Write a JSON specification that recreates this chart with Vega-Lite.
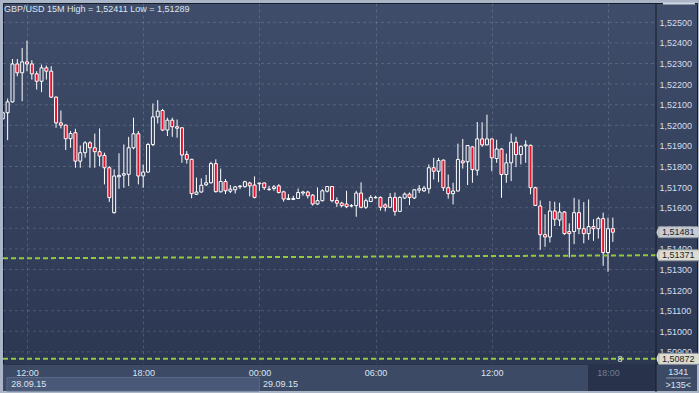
{
  "$schema": "https://vega.github.io/schema/vega-lite/v6.json",
  "width": 694,
  "height": 361,
  "autosize": {"type": "none"},
  "padding": {"left": 3, "top": 3, "right": 2, "bottom": 29},
  "background": "#aab5c7",
  "config": {
    "view": {"fill": {"gradient": "linear", "x1": 0, "y1": 0, "x2": 0, "y2": 1, "stops": [{"offset": 0, "color": "#3f4d6a"}, {"offset": 1, "color": "#2c3752"}]}, "stroke": "#161c28", "strokeWidth": 1},
    "font": "Liberation Sans",
    "scale": {"continuousPadding": 0}
  },
  "resolve": {"axis": {"x": "independent", "y": "independent"}},
  "datasets": {
    "candles": [
      {"t":"2015-09-28T10:45:00Z","o":1.52032,"h":1.52068,"l":1.52025,"c":1.52061},
      {"t":"2015-09-28T11:00:00Z","o":1.52061,"h":1.52130,"l":1.51928,"c":1.52114},
      {"t":"2015-09-28T11:15:00Z","o":1.52114,"h":1.52322,"l":1.52110,"c":1.52298},
      {"t":"2015-09-28T11:30:00Z","o":1.52298,"h":1.52322,"l":1.52238,"c":1.52255},
      {"t":"2015-09-28T11:45:00Z","o":1.52255,"h":1.52376,"l":1.52117,"c":1.52308},
      {"t":"2015-09-28T12:00:00Z","o":1.52308,"h":1.52411,"l":1.52263,"c":1.52298},
      {"t":"2015-09-28T12:15:00Z","o":1.52298,"h":1.52316,"l":1.52222,"c":1.52250},
      {"t":"2015-09-28T12:30:00Z","o":1.52250,"h":1.52263,"l":1.52174,"c":1.52214},
      {"t":"2015-09-28T12:45:00Z","o":1.52214,"h":1.52295,"l":1.52161,"c":1.52279},
      {"t":"2015-09-28T13:00:00Z","o":1.52279,"h":1.52290,"l":1.52222,"c":1.52263},
      {"t":"2015-09-28T13:15:00Z","o":1.52263,"h":1.52287,"l":1.52133,"c":1.52137},
      {"t":"2015-09-28T13:30:00Z","o":1.52137,"h":1.52140,"l":1.51988,"c":1.52012},
      {"t":"2015-09-28T13:45:00Z","o":1.52012,"h":1.52072,"l":1.51985,"c":1.52001},
      {"t":"2015-09-28T14:00:00Z","o":1.52001,"h":1.52004,"l":1.51880,"c":1.51935},
      {"t":"2015-09-28T14:15:00Z","o":1.51935,"h":1.51972,"l":1.51891,"c":1.51960},
      {"t":"2015-09-28T14:30:00Z","o":1.51964,"h":1.51983,"l":1.51794,"c":1.51826},
      {"t":"2015-09-28T14:45:00Z","o":1.51826,"h":1.51902,"l":1.51794,"c":1.51867},
      {"t":"2015-09-28T15:00:00Z","o":1.51867,"h":1.51923,"l":1.51843,"c":1.51915},
      {"t":"2015-09-28T15:15:00Z","o":1.51915,"h":1.51923,"l":1.51794,"c":1.51891},
      {"t":"2015-09-28T15:30:00Z","o":1.51891,"h":1.51960,"l":1.51794,"c":1.51872},
      {"t":"2015-09-28T15:45:00Z","o":1.51872,"h":1.51985,"l":1.51802,"c":1.51851},
      {"t":"2015-09-28T16:00:00Z","o":1.51854,"h":1.51867,"l":1.51713,"c":1.51794},
      {"t":"2015-09-28T16:15:00Z","o":1.51794,"h":1.51802,"l":1.51628,"c":1.51649},
      {"t":"2015-09-28T16:30:00Z","o":1.51576,"h":1.51786,"l":1.51571,"c":1.51754},
      {"t":"2015-09-28T16:45:00Z","o":1.51750,"h":1.51864,"l":1.51692,"c":1.51757},
      {"t":"2015-09-28T17:00:00Z","o":1.51758,"h":1.51907,"l":1.51697,"c":1.51765},
      {"t":"2015-09-28T17:15:00Z","o":1.51762,"h":1.51944,"l":1.51705,"c":1.51891},
      {"t":"2015-09-28T17:30:00Z","o":1.51891,"h":1.52037,"l":1.51883,"c":1.51959},
      {"t":"2015-09-28T17:45:00Z","o":1.51959,"h":1.51972,"l":1.51713,"c":1.51754},
      {"t":"2015-09-28T18:00:00Z","o":1.51754,"h":1.51810,"l":1.51697,"c":1.51773},
      {"t":"2015-09-28T18:15:00Z","o":1.51773,"h":1.51915,"l":1.51770,"c":1.51907},
      {"t":"2015-09-28T18:30:00Z","o":1.51907,"h":1.52106,"l":1.51899,"c":1.52041},
      {"t":"2015-09-28T18:45:00Z","o":1.52041,"h":1.52122,"l":1.52009,"c":1.52069},
      {"t":"2015-09-28T19:00:00Z","o":1.52072,"h":1.52080,"l":1.51972,"c":1.51977},
      {"t":"2015-09-28T19:15:00Z","o":1.51977,"h":1.52037,"l":1.51948,"c":1.52025},
      {"t":"2015-09-28T19:30:00Z","o":1.52025,"h":1.52037,"l":1.51944,"c":1.51993},
      {"t":"2015-09-28T19:45:00Z","o":1.51993,"h":1.52028,"l":1.51940,"c":1.51986},
      {"t":"2015-09-28T20:00:00Z","o":1.51988,"h":1.51990,"l":1.51818,"c":1.51856},
      {"t":"2015-09-28T20:15:00Z","o":1.51859,"h":1.51875,"l":1.51814,"c":1.51835},
      {"t":"2015-09-28T20:30:00Z","o":1.51835,"h":1.51837,"l":1.51646,"c":1.51668},
      {"t":"2015-09-28T20:45:00Z","o":1.51665,"h":1.51746,"l":1.51662,"c":1.51676},
      {"t":"2015-09-28T21:00:00Z","o":1.51676,"h":1.51742,"l":1.51673,"c":1.51709},
      {"t":"2015-09-28T21:15:00Z","o":1.51711,"h":1.51759,"l":1.51705,"c":1.51721},
      {"t":"2015-09-28T21:30:00Z","o":1.51721,"h":1.51823,"l":1.51717,"c":1.51814},
      {"t":"2015-09-28T21:45:00Z","o":1.51814,"h":1.51835,"l":1.51673,"c":1.51678},
      {"t":"2015-09-28T22:00:00Z","o":1.51677,"h":1.51790,"l":1.51674,"c":1.51727},
      {"t":"2015-09-28T22:15:00Z","o":1.51727,"h":1.51739,"l":1.51666,"c":1.51682},
      {"t":"2015-09-28T22:30:00Z","o":1.51680,"h":1.51710,"l":1.51671,"c":1.51690},
      {"t":"2015-09-28T22:45:00Z","o":1.51687,"h":1.51706,"l":1.51669,"c":1.51701},
      {"t":"2015-09-28T23:00:00Z","o":1.51702,"h":1.51710,"l":1.51690,"c":1.51705},
      {"t":"2015-09-28T23:15:00Z","o":1.51702,"h":1.51731,"l":1.51698,"c":1.51726},
      {"t":"2015-09-28T23:30:00Z","o":1.51720,"h":1.51726,"l":1.51655,"c":1.51706},
      {"t":"2015-09-28T23:45:00Z","o":1.51710,"h":1.51752,"l":1.51645,"c":1.51650},
      {"t":"2015-09-29T00:00:00Z","o":1.51716,"h":1.51720,"l":1.51682,"c":1.51720},
      {"t":"2015-09-29T00:15:00Z","o":1.51720,"h":1.51722,"l":1.51686,"c":1.51697},
      {"t":"2015-09-29T00:30:00Z","o":1.51688,"h":1.51706,"l":1.51682,"c":1.51690},
      {"t":"2015-09-29T00:45:00Z","o":1.51693,"h":1.51710,"l":1.51682,"c":1.51701},
      {"t":"2015-09-29T01:00:00Z","o":1.51706,"h":1.51714,"l":1.51669,"c":1.51674},
      {"t":"2015-09-29T01:15:00Z","o":1.51677,"h":1.51682,"l":1.51630,"c":1.51642},
      {"t":"2015-09-29T01:30:00Z","o":1.51640,"h":1.51666,"l":1.51637,"c":1.51645},
      {"t":"2015-09-29T01:45:00Z","o":1.51640,"h":1.51658,"l":1.51637,"c":1.51645},
      {"t":"2015-09-29T02:00:00Z","o":1.51645,"h":1.51693,"l":1.51642,"c":1.51674},
      {"t":"2015-09-29T02:15:00Z","o":1.51671,"h":1.51682,"l":1.51658,"c":1.51676},
      {"t":"2015-09-29T02:30:00Z","o":1.51676,"h":1.51682,"l":1.51645,"c":1.51658},
      {"t":"2015-09-29T02:45:00Z","o":1.51661,"h":1.51666,"l":1.51610,"c":1.51618},
      {"t":"2015-09-29T03:00:00Z","o":1.51618,"h":1.51698,"l":1.51614,"c":1.51634},
      {"t":"2015-09-29T03:15:00Z","o":1.51634,"h":1.51690,"l":1.51630,"c":1.51682},
      {"t":"2015-09-29T03:30:00Z","o":1.51680,"h":1.51705,"l":1.51674,"c":1.51703},
      {"t":"2015-09-29T03:45:00Z","o":1.51703,"h":1.51705,"l":1.51626,"c":1.51634},
      {"t":"2015-09-29T04:00:00Z","o":1.51635,"h":1.51650,"l":1.51603,"c":1.51622},
      {"t":"2015-09-29T04:15:00Z","o":1.51622,"h":1.51629,"l":1.51602,"c":1.51610},
      {"t":"2015-09-29T04:30:00Z","o":1.51618,"h":1.51682,"l":1.51598,"c":1.51605},
      {"t":"2015-09-29T04:45:00Z","o":1.51608,"h":1.51618,"l":1.51602,"c":1.51610},
      {"t":"2015-09-29T05:00:00Z","o":1.51610,"h":1.51682,"l":1.51556,"c":1.51671},
      {"t":"2015-09-29T05:15:00Z","o":1.51671,"h":1.51723,"l":1.51597,"c":1.51602},
      {"t":"2015-09-29T05:30:00Z","o":1.51602,"h":1.51645,"l":1.51594,"c":1.51634},
      {"t":"2015-09-29T05:45:00Z","o":1.51630,"h":1.51661,"l":1.51628,"c":1.51650},
      {"t":"2015-09-29T06:00:00Z","o":1.51648,"h":1.51658,"l":1.51645,"c":1.51650},
      {"t":"2015-09-29T06:15:00Z","o":1.51650,"h":1.51655,"l":1.51586,"c":1.51602},
      {"t":"2015-09-29T06:30:00Z","o":1.51614,"h":1.51621,"l":1.51582,"c":1.51602},
      {"t":"2015-09-29T06:45:00Z","o":1.51602,"h":1.51671,"l":1.51598,"c":1.51650},
      {"t":"2015-09-29T07:00:00Z","o":1.51650,"h":1.51674,"l":1.51561,"c":1.51582},
      {"t":"2015-09-29T07:15:00Z","o":1.51582,"h":1.51655,"l":1.51580,"c":1.51650},
      {"t":"2015-09-29T07:30:00Z","o":1.51647,"h":1.51674,"l":1.51642,"c":1.51666},
      {"t":"2015-09-29T07:45:00Z","o":1.51666,"h":1.51674,"l":1.51613,"c":1.51650},
      {"t":"2015-09-29T08:00:00Z","o":1.51647,"h":1.51690,"l":1.51642,"c":1.51687},
      {"t":"2015-09-29T08:15:00Z","o":1.51685,"h":1.51710,"l":1.51671,"c":1.51692},
      {"t":"2015-09-29T08:30:00Z","o":1.51682,"h":1.51706,"l":1.51677,"c":1.51695},
      {"t":"2015-09-29T08:45:00Z","o":1.51692,"h":1.51810,"l":1.51669,"c":1.51794},
      {"t":"2015-09-29T09:00:00Z","o":1.51794,"h":1.51842,"l":1.51737,"c":1.51777},
      {"t":"2015-09-29T09:15:00Z","o":1.51777,"h":1.51842,"l":1.51724,"c":1.51829},
      {"t":"2015-09-29T09:30:00Z","o":1.51831,"h":1.51834,"l":1.51681,"c":1.51697},
      {"t":"2015-09-29T09:45:00Z","o":1.51697,"h":1.51761,"l":1.51644,"c":1.51668},
      {"t":"2015-09-29T10:00:00Z","o":1.51668,"h":1.51721,"l":1.51616,"c":1.51681},
      {"t":"2015-09-29T10:15:00Z","o":1.51681,"h":1.51911,"l":1.51679,"c":1.51834},
      {"t":"2015-09-29T10:30:00Z","o":1.51827,"h":1.51934,"l":1.51790,"c":1.51818},
      {"t":"2015-09-29T10:45:00Z","o":1.51823,"h":1.51903,"l":1.51710,"c":1.51902},
      {"t":"2015-09-29T11:00:00Z","o":1.51895,"h":1.51898,"l":1.51721,"c":1.51785},
      {"t":"2015-09-29T11:15:00Z","o":1.51782,"h":1.52016,"l":1.51756,"c":1.51934},
      {"t":"2015-09-29T11:30:00Z","o":1.51934,"h":1.52015,"l":1.51895,"c":1.51905},
      {"t":"2015-09-29T11:45:00Z","o":1.51905,"h":1.52052,"l":1.51903,"c":1.51934},
      {"t":"2015-09-29T12:00:00Z","o":1.51934,"h":1.51935,"l":1.51777,"c":1.51842},
      {"t":"2015-09-29T12:15:00Z","o":1.51839,"h":1.51930,"l":1.51818,"c":1.51885},
      {"t":"2015-09-29T12:30:00Z","o":1.51885,"h":1.51890,"l":1.51648,"c":1.51761},
      {"t":"2015-09-29T12:45:00Z","o":1.51761,"h":1.51863,"l":1.51721,"c":1.51818},
      {"t":"2015-09-29T13:00:00Z","o":1.51818,"h":1.51960,"l":1.51729,"c":1.51918},
      {"t":"2015-09-29T13:15:00Z","o":1.51918,"h":1.51944,"l":1.51797,"c":1.51858},
      {"t":"2015-09-29T13:30:00Z","o":1.51858,"h":1.51902,"l":1.51810,"c":1.51898},
      {"t":"2015-09-29T13:45:00Z","o":1.51900,"h":1.51927,"l":1.51818,"c":1.51905},
      {"t":"2015-09-29T14:00:00Z","o":1.51903,"h":1.51906,"l":1.51665,"c":1.51697},
      {"t":"2015-09-29T14:15:00Z","o":1.51697,"h":1.51702,"l":1.51608,"c":1.51611},
      {"t":"2015-09-29T14:30:00Z","o":1.51608,"h":1.51635,"l":1.51395,"c":1.51469},
      {"t":"2015-09-29T14:45:00Z","o":1.51469,"h":1.51568,"l":1.51410,"c":1.51458},
      {"t":"2015-09-29T15:00:00Z","o":1.51458,"h":1.51632,"l":1.51431,"c":1.51584},
      {"t":"2015-09-29T15:15:00Z","o":1.51584,"h":1.51629,"l":1.51511,"c":1.51544},
      {"t":"2015-09-29T15:30:00Z","o":1.51540,"h":1.51624,"l":1.51511,"c":1.51579},
      {"t":"2015-09-29T15:45:00Z","o":1.51579,"h":1.51584,"l":1.51468,"c":1.51474},
      {"t":"2015-09-29T16:00:00Z","o":1.51484,"h":1.51524,"l":1.51358,"c":1.51474},
      {"t":"2015-09-29T16:15:00Z","o":1.51484,"h":1.51648,"l":1.51423,"c":1.51576},
      {"t":"2015-09-29T16:30:00Z","o":1.51576,"h":1.51640,"l":1.51471,"c":1.51498},
      {"t":"2015-09-29T16:45:00Z","o":1.51498,"h":1.51627,"l":1.51427,"c":1.51474},
      {"t":"2015-09-29T17:00:00Z","o":1.51474,"h":1.51640,"l":1.51444,"c":1.51508},
      {"t":"2015-09-29T17:15:00Z","o":1.51508,"h":1.51544,"l":1.51439,"c":1.51498},
      {"t":"2015-09-29T17:30:00Z","o":1.51498,"h":1.51556,"l":1.51450,"c":1.51547},
      {"t":"2015-09-29T17:45:00Z","o":1.51547,"h":1.51576,"l":1.51318,"c":1.51382},
      {"t":"2015-09-29T18:00:00Z","o":1.51382,"h":1.51552,"l":1.51289,"c":1.51498},
      {"t":"2015-09-29T18:15:00Z","o":1.51498,"h":1.51552,"l":1.51434,"c":1.51481}
    ],
    "trend": [
      {"t":"2015-09-28T10:45:39Z","v":1.51354},
      {"t":"2015-09-29T20:28:42Z","v":1.51369}
    ],
    "prices": [
      {"p":1.51481,"lab":"1,51481"},
      {"p":1.51369,"lab":"1,51371"},
      {"p":1.50866,"lab":"1,50872"}
    ],
    "dates": [
      {"t":"2015-09-28T11:00:00Z","lab":"28.09.15"},
      {"t":"2015-09-29T00:00:00Z","lab":"29.09.15"}
    ],
    "levels": [
      {"v":1.509},{"v":1.510},{"v":1.511},{"v":1.512},{"v":1.513},{"v":1.514},{"v":1.515},{"v":1.516},{"v":1.517},
      {"v":1.518},{"v":1.519},{"v":1.520},{"v":1.521},{"v":1.522},{"v":1.523},{"v":1.524},{"v":1.525}
    ]
  },
  "layer": [
    {
      "data": {"name": "levels"},
      "mark": {"type": "rule", "color": "#ffffff", "opacity": 0.15, "strokeWidth": 1, "strokeDash": [3, 3]},
      "encoding": {
        "x": {"datum": {"year":2015,"month":9,"date":28,"hours":10,"minutes":45,"seconds":39,"utc":true}, "type": "temporal",
          "scale": {"type": "utc", "padding": 0, "domain": [{"year":2015,"month":9,"date":28,"hours":10,"minutes":45,"seconds":39,"utc":true}, {"year":2015,"month":9,"date":29,"hours":22,"minutes":35,"seconds":43,"utc":true}]}, "axis": null},
        "x2": {"datum": {"year":2015,"month":9,"date":29,"hours":20,"minutes":28,"seconds":42,"utc":true}},
        "y": {"field": "v", "type": "quantitative", "scale": {"domain": [1.50841, 1.52594], "zero": false, "nice": false, "padding": 0},
          "axis": {"orient": "right", "offset": -41, "title": null, "grid": false, "ticks": false, "domain": false, "zindex": 0, "labelFont": "Liberation Sans", "labelFontSize": 9, "labelPadding": 3, "labelBaseline": "middle", "labelColor": "#d6deea", "labelFlush": false, "labelOverlap": false,
            "labelExpr": "replace(format(datum.value, '.5f'), '.', ',')",
            "values": [1.509, 1.51, 1.511, 1.512, 1.513, 1.514, 1.515, 1.516, 1.517, 1.518, 1.519, 1.52, 1.521, 1.522, 1.523, 1.524, 1.525]}}
      }
    },
    {
      "data": {"values": [{}]},
      "mark": {"type": "rect", "clip": false, "fill": "#3c4a66"},
      "encoding": {
        "x": {"datum": {"year":2015,"month":9,"date":28,"hours":10,"minutes":45,"seconds":39,"utc":true}, "type": "temporal",
          "scale": {"type": "utc", "padding": 0, "domain": [{"year":2015,"month":9,"date":28,"hours":10,"minutes":45,"seconds":39,"utc":true}, {"year":2015,"month":9,"date":29,"hours":22,"minutes":35,"seconds":43,"utc":true}]},
          "axis": {"orient": "bottom", "title": null, "grid": false, "ticks": false, "domain": false, "zindex": 1, "labelFont": "Liberation Sans", "labelFontSize": 9, "labelPadding": 4, "labelFlush": false, "labelOverlap": false,
            "labelExpr": "utcFormat(datum.value, '%H:%M')",
            "labelColor": {"condition": {"test": "datum.value > 1443546000000", "value": "#6f7d96"}, "value": "#dde4ef"},
            "values": [{"year":2015,"month":9,"date":28,"hours":12,"utc":true},{"year":2015,"month":9,"date":28,"hours":18,"utc":true},{"year":2015,"month":9,"date":29,"hours":0,"utc":true},{"year":2015,"month":9,"date":29,"hours":6,"utc":true},{"year":2015,"month":9,"date":29,"hours":12,"utc":true},{"year":2015,"month":9,"date":29,"hours":18,"utc":true}]}},
        "x2": {"datum": {"year":2015,"month":9,"date":29,"hours":22,"minutes":35,"seconds":43,"utc":true}},
        "y": {"datum": 1.508386, "type": "quantitative", "scale": {"domain": [1.50841, 1.52594], "zero": false, "nice": false, "padding": 0}, "axis": null},
        "y2": {"datum": 1.507099}
      }
    },
    {
      "data": {"values": [{}]},
      "mark": {"type": "rect", "clip": false, "fill": "#4a5877", "stroke": "#5a6987", "strokeWidth": 1},
      "encoding": {
        "x": {"datum": {"year":2015,"month":9,"date":28,"hours":10,"minutes":58,"utc":true}, "type": "temporal", "axis": null,
          "scale": {"type": "utc", "padding": 0, "domain": [{"year":2015,"month":9,"date":28,"hours":10,"minutes":45,"seconds":39,"utc":true}, {"year":2015,"month":9,"date":29,"hours":22,"minutes":35,"seconds":43,"utc":true}]}},
        "x2": {"datum": {"year":2015,"month":9,"date":29,"hours":0,"utc":true}},
        "y": {"datum": 1.507754, "type": "quantitative", "axis": null, "scale": {"domain": [1.50841, 1.52594], "zero": false, "nice": false, "padding": 0}},
        "y2": {"datum": 1.507099}
      }
    },
    {
      "data": {"values": [{}]},
      "mark": {"type": "rect", "clip": false, "fill": "#28324b"},
      "encoding": {
        "x": {"datum": {"year":2015,"month":9,"date":29,"hours":16,"minutes":58,"seconds":3,"utc":true}, "type": "temporal", "axis": null,
          "scale": {"type": "utc", "padding": 0, "domain": [{"year":2015,"month":9,"date":28,"hours":10,"minutes":45,"seconds":39,"utc":true}, {"year":2015,"month":9,"date":29,"hours":22,"minutes":35,"seconds":43,"utc":true}]}},
        "x2": {"datum": {"year":2015,"month":9,"date":29,"hours":20,"minutes":28,"seconds":42,"utc":true}},
        "y": {"datum": 1.508386, "type": "quantitative", "axis": null, "scale": {"domain": [1.50841, 1.52594], "zero": false, "nice": false, "padding": 0}},
        "y2": {"datum": 1.507099}
      }
    },
    {
      "data": {"name": "candles"},
      "mark": {"type": "rule", "color": "#ffffff", "strokeWidth": 1, "clip": true},
      "encoding": {
        "x": {"field": "t", "type": "temporal",
          "scale": {"type": "utc", "padding": 0, "domain": [{"year":2015,"month":9,"date":28,"hours":10,"minutes":45,"seconds":39,"utc":true}, {"year":2015,"month":9,"date":29,"hours":22,"minutes":35,"seconds":43,"utc":true}]},
          "axis": {"orient": "bottom", "title": null, "grid": true, "labels": false, "ticks": false, "domain": false, "zindex": 0, "gridColor": "#ffffff", "gridOpacity": 0.15, "gridDash": [3, 3], "gridWidth": 1,
            "values": [{"year":2015,"month":9,"date":28,"hours":12,"utc":true},{"year":2015,"month":9,"date":28,"hours":18,"utc":true},{"year":2015,"month":9,"date":29,"hours":0,"utc":true},{"year":2015,"month":9,"date":29,"hours":6,"utc":true},{"year":2015,"month":9,"date":29,"hours":12,"utc":true},{"year":2015,"month":9,"date":29,"hours":18,"utc":true}]}},
        "y": {"field": "l", "type": "quantitative", "axis": null, "scale": {"domain": [1.50841, 1.52594], "zero": false, "nice": false, "padding": 0}},
        "y2": {"field": "h"}
      }
    },
    {
      "data": {"name": "candles"},
      "mark": {"type": "bar", "size": 3, "stroke": "#ffffff", "strokeWidth": 1, "clip": true},
      "encoding": {
        "x": {"field": "t", "type": "temporal", "axis": null,
          "scale": {"type": "utc", "padding": 0, "domain": [{"year":2015,"month":9,"date":28,"hours":10,"minutes":45,"seconds":39,"utc":true}, {"year":2015,"month":9,"date":29,"hours":22,"minutes":35,"seconds":43,"utc":true}]}},
        "y": {"field": "o", "type": "quantitative", "axis": null, "scale": {"domain": [1.50841, 1.52594], "zero": false, "nice": false, "padding": 0}},
        "y2": {"field": "c"},
        "fill": {"condition": {"test": "datum.c < datum.o", "value": "#e8112d"}, "field": "o", "type": "quantitative", "scale": {"domain": [1.50841, 1.52594], "range": ["#2c3752", "#3f4d6a"], "interpolate": "rgb"}, "legend": null}
      }
    },
    {
      "data": {"name": "trend"},
      "mark": {"type": "line", "color": "#94c83c", "strokeWidth": 2, "strokeDash": [5, 3], "clip": true},
      "encoding": {
        "x": {"field": "t", "type": "temporal", "axis": null,
          "scale": {"type": "utc", "padding": 0, "domain": [{"year":2015,"month":9,"date":28,"hours":10,"minutes":45,"seconds":39,"utc":true}, {"year":2015,"month":9,"date":29,"hours":22,"minutes":35,"seconds":43,"utc":true}]}},
        "y": {"field": "v", "type": "quantitative", "axis": null, "scale": {"domain": [1.50841, 1.52594], "zero": false, "nice": false, "padding": 0}}
      }
    },
    {
      "data": {"values": [{}]},
      "mark": {"type": "rule", "color": "#94c83c", "strokeWidth": 2, "strokeDash": [5, 3]},
      "encoding": {
        "x": {"datum": {"year":2015,"month":9,"date":28,"hours":10,"minutes":45,"seconds":39,"utc":true}, "type": "temporal", "axis": null,
          "scale": {"type": "utc", "padding": 0, "domain": [{"year":2015,"month":9,"date":28,"hours":10,"minutes":45,"seconds":39,"utc":true}, {"year":2015,"month":9,"date":29,"hours":22,"minutes":35,"seconds":43,"utc":true}]}},
        "x2": {"datum": {"year":2015,"month":9,"date":29,"hours":20,"minutes":28,"seconds":42,"utc":true}},
        "y": {"datum": 1.50866, "type": "quantitative", "axis": null, "scale": {"domain": [1.50841, 1.52594], "zero": false, "nice": false, "padding": 0}}
      }
    },
    {
      "data": {"values": [{}]},
      "mark": {"type": "text", "text": "8", "fontSize": 9, "font": "Liberation Sans", "color": "#e4ecd8", "baseline": "middle", "align": "center"},
      "encoding": {
        "x": {"datum": {"year":2015,"month":9,"date":29,"hours":18,"minutes":37,"seconds":9,"utc":true}, "type": "temporal", "axis": null,
          "scale": {"type": "utc", "padding": 0, "domain": [{"year":2015,"month":9,"date":28,"hours":10,"minutes":45,"seconds":39,"utc":true}, {"year":2015,"month":9,"date":29,"hours":22,"minutes":35,"seconds":43,"utc":true}]}},
        "y": {"datum": 1.50866, "type": "quantitative", "axis": null, "scale": {"domain": [1.50841, 1.52594], "zero": false, "nice": false, "padding": 0}}
      }
    },
    {
      "data": {"name": "prices"},
      "mark": {"type": "bar", "clip": false, "size": 11, "stroke": "#8f96a0", "strokeWidth": 1},
      "encoding": {
        "x": {"datum": {"year":2015,"month":9,"date":29,"hours":20,"minutes":37,"seconds":3,"utc":true}, "type": "temporal", "axis": null,
          "scale": {"type": "utc", "padding": 0, "domain": [{"year":2015,"month":9,"date":28,"hours":10,"minutes":45,"seconds":39,"utc":true}, {"year":2015,"month":9,"date":29,"hours":22,"minutes":35,"seconds":43,"utc":true}]}},
        "x2": {"datum": {"year":2015,"month":9,"date":29,"hours":23,"utc":true}},
        "y": {"field": "p", "type": "quantitative", "axis": null, "scale": {"domain": [1.50841, 1.52594], "zero": false, "nice": false, "padding": 0}},
        "fill": {"condition": {"test": "datum.p > 1.514", "value": "#c9ccd2"}, "value": "#dcdcd0"}
      }
    },
    {
      "data": {"name": "prices"},
      "mark": {"type": "point", "clip": false, "filled": true, "shape": "M 0 -1 L -0.5 0 L 0 1 Z", "size": 121, "opacity": 1, "strokeWidth": 0},
      "encoding": {
        "x": {"datum": {"year":2015,"month":9,"date":29,"hours":20,"minutes":37,"seconds":3,"utc":true}, "type": "temporal", "axis": null,
          "scale": {"type": "utc", "padding": 0, "domain": [{"year":2015,"month":9,"date":28,"hours":10,"minutes":45,"seconds":39,"utc":true}, {"year":2015,"month":9,"date":29,"hours":22,"minutes":35,"seconds":43,"utc":true}]}},
        "y": {"field": "p", "type": "quantitative", "axis": null, "scale": {"domain": [1.50841, 1.52594], "zero": false, "nice": false, "padding": 0}},
        "fill": {"condition": {"test": "datum.p > 1.514", "value": "#c9ccd2"}, "value": "#dcdcd0"}
      }
    },
    {
      "data": {"name": "prices"},
      "mark": {"type": "text", "clip": false, "align": "left", "baseline": "middle", "fontSize": 9, "font": "Liberation Sans", "color": "#222222"},
      "encoding": {
        "x": {"datum": {"year":2015,"month":9,"date":29,"hours":20,"minutes":47,"seconds":15,"utc":true}, "type": "temporal", "axis": null,
          "scale": {"type": "utc", "padding": 0, "domain": [{"year":2015,"month":9,"date":28,"hours":10,"minutes":45,"seconds":39,"utc":true}, {"year":2015,"month":9,"date":29,"hours":22,"minutes":35,"seconds":43,"utc":true}]}},
        "y": {"field": "p", "type": "quantitative", "axis": null, "scale": {"domain": [1.50841, 1.52594], "zero": false, "nice": false, "padding": 0}},
        "text": {"field": "lab"}
      }
    },
    {
      "data": {"name": "dates"},
      "mark": {"type": "text", "clip": false, "align": "left", "baseline": "alphabetic", "dx": 3.5, "fontSize": 9, "font": "Liberation Sans", "color": "#dde4ef"},
      "encoding": {
        "x": {"field": "t", "type": "temporal", "axis": null,
          "scale": {"type": "utc", "padding": 0, "domain": [{"year":2015,"month":9,"date":28,"hours":10,"minutes":45,"seconds":39,"utc":true}, {"year":2015,"month":9,"date":29,"hours":22,"minutes":35,"seconds":43,"utc":true}]}},
        "y": {"datum": 1.507293, "type": "quantitative", "axis": null, "scale": {"domain": [1.50841, 1.52594], "zero": false, "nice": false, "padding": 0}},
        "text": {"field": "lab"}
      }
    },
    {
      "data": {"values": [{}]},
      "mark": {"type": "text", "text": "1341", "clip": false, "align": "center", "baseline": "alphabetic", "fontSize": 9, "font": "Liberation Sans", "color": "#dde4ef"},
      "encoding": {
        "x": {"datum": {"year":2015,"month":9,"date":29,"hours":21,"minutes":37,"seconds":51,"utc":true}, "type": "temporal", "axis": null,
          "scale": {"type": "utc", "padding": 0, "domain": [{"year":2015,"month":9,"date":28,"hours":10,"minutes":45,"seconds":39,"utc":true}, {"year":2015,"month":9,"date":29,"hours":22,"minutes":35,"seconds":43,"utc":true}]}},
        "y": {"datum": 1.507876, "type": "quantitative", "axis": null, "scale": {"domain": [1.50841, 1.52594], "zero": false, "nice": false, "padding": 0}}
      }
    },
    {
      "data": {"values": [{}]},
      "mark": {"type": "text", "text": ">135<", "clip": false, "align": "center", "baseline": "alphabetic", "fontSize": 9, "font": "Liberation Sans", "color": "#dde4ef"},
      "encoding": {
        "x": {"datum": {"year":2015,"month":9,"date":29,"hours":21,"minutes":37,"seconds":51,"utc":true}, "type": "temporal", "axis": null,
          "scale": {"type": "utc", "padding": 0, "domain": [{"year":2015,"month":9,"date":28,"hours":10,"minutes":45,"seconds":39,"utc":true}, {"year":2015,"month":9,"date":29,"hours":22,"minutes":35,"seconds":43,"utc":true}]}},
        "y": {"datum": 1.507244, "type": "quantitative", "axis": null, "scale": {"domain": [1.50841, 1.52594], "zero": false, "nice": false, "padding": 0}}
      }
    },
    {
      "data": {"values": [{}]},
      "mark": {"type": "rule", "clip": false, "color": "#8a96aa", "strokeWidth": 1},
      "encoding": {
        "x": {"datum": {"year":2015,"month":9,"date":29,"hours":21,"utc":true}, "type": "temporal", "axis": null,
          "scale": {"type": "utc", "padding": 0, "domain": [{"year":2015,"month":9,"date":28,"hours":10,"minutes":45,"seconds":39,"utc":true}, {"year":2015,"month":9,"date":29,"hours":22,"minutes":35,"seconds":43,"utc":true}]}},
        "x2": {"datum": {"year":2015,"month":9,"date":29,"hours":22,"minutes":16,"seconds":36,"utc":true}},
        "y": {"datum": 1.50773, "type": "quantitative", "axis": null, "scale": {"domain": [1.50841, 1.52594], "zero": false, "nice": false, "padding": 0}}
      }
    },
    {
      "data": {"values": [{}]},
      "mark": {"type": "rule", "clip": false, "color": "#161c28", "strokeWidth": 1},
      "encoding": {
        "x": {"datum": {"year":2015,"month":9,"date":29,"hours":20,"minutes":28,"seconds":42,"utc":true}, "type": "temporal", "axis": null,
          "scale": {"type": "utc", "padding": 0, "domain": [{"year":2015,"month":9,"date":28,"hours":10,"minutes":45,"seconds":39,"utc":true}, {"year":2015,"month":9,"date":29,"hours":22,"minutes":35,"seconds":43,"utc":true}]}},
        "y": {"datum": 1.52594, "type": "quantitative", "axis": null, "scale": {"domain": [1.50841, 1.52594], "zero": false, "nice": false, "padding": 0}},
        "y2": {"datum": 1.50705}
      }
    },
    {
      "data": {"values": [{}]},
      "mark": {"type": "rule", "clip": false, "color": "#d0d8e2", "strokeWidth": 2},
      "encoding": {
        "x": {"datum": {"year":2015,"month":9,"date":29,"hours":20,"minutes":50,"seconds":21,"utc":true}, "type": "temporal", "axis": null,
          "scale": {"type": "utc", "padding": 0, "domain": [{"year":2015,"month":9,"date":28,"hours":10,"minutes":45,"seconds":39,"utc":true}, {"year":2015,"month":9,"date":29,"hours":22,"minutes":35,"seconds":43,"utc":true}]}},
        "x2": {"datum": {"year":2015,"month":9,"date":29,"hours":22,"minutes":29,"seconds":27,"utc":true}},
        "y": {"datum": 1.525916, "type": "quantitative", "axis": null, "scale": {"domain": [1.50841, 1.52594], "zero": false, "nice": false, "padding": 0}}
      }
    },
    {
      "data": {"values": [{}]},
      "mark": {"type": "text", "text": "GBP/USD 15M High = 1,52411 Low = 1,51289", "clip": false, "align": "left", "baseline": "alphabetic", "fontSize": 9, "font": "Liberation Sans", "color": "#dde4ef"},
      "encoding": {
        "x": {"datum": {"year":2015,"month":9,"date":28,"hours":10,"minutes":48,"seconds":45,"utc":true}, "type": "temporal", "axis": null,
          "scale": {"type": "utc", "padding": 0, "domain": [{"year":2015,"month":9,"date":28,"hours":10,"minutes":45,"seconds":39,"utc":true}, {"year":2015,"month":9,"date":29,"hours":22,"minutes":35,"seconds":43,"utc":true}]}},
        "y": {"datum": 1.525503, "type": "quantitative", "axis": null, "scale": {"domain": [1.50841, 1.52594], "zero": false, "nice": false, "padding": 0}}
      }
    }
  ]
}
